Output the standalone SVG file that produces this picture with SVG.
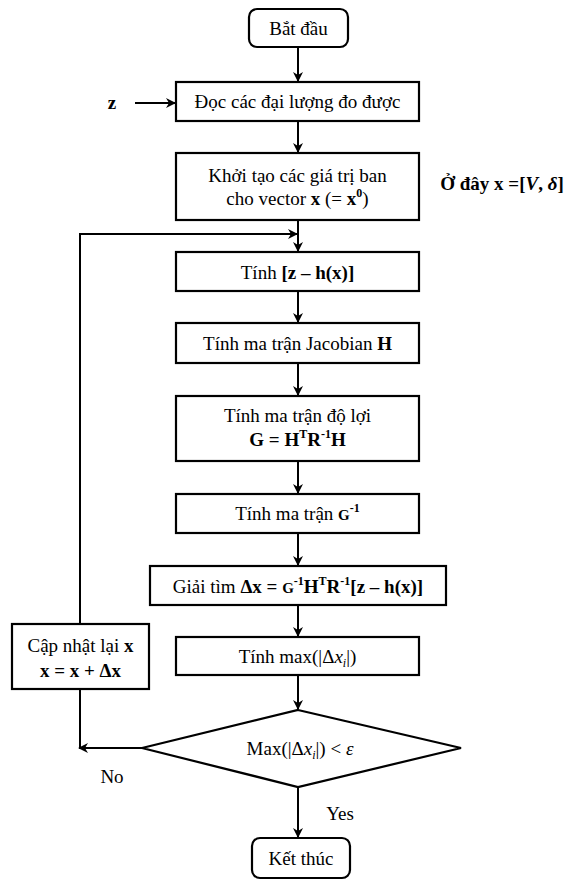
<svg xmlns="http://www.w3.org/2000/svg" width="581" height="880" viewBox="0 0 581 880">
<defs>
<marker id="ah" markerWidth="10" markerHeight="10" refX="9" refY="5" orient="auto" markerUnits="userSpaceOnUse">
<path d="M0,0 L10,5 L0,10 L3,5 Z" fill="#000"/>
</marker>
<style>
.box{fill:#fff;stroke:#000;stroke-width:2.2}
.t{font-family:'Liberation Serif',serif;font-size:19px;fill:#000;text-anchor:middle}
.b{font-weight:bold}
.i{font-style:italic}
.c{fill:none;stroke:#000;stroke-width:2}
.sup{font-size:12px}
</style>
</defs>
<rect width="581" height="880" fill="#fff"/>
<g id="connectors">
<line class="c" x1="298" y1="47" x2="298" y2="81" marker-end="url(#ah)"/>
<line class="c" x1="135" y1="103" x2="175" y2="103" marker-end="url(#ah)"/>
<line class="c" x1="298" y1="121" x2="298" y2="152" marker-end="url(#ah)"/>
<line class="c" x1="298" y1="220" x2="298" y2="251" marker-end="url(#ah)"/>
<polyline class="c" points="80,624 80,234 297,234" marker-end="url(#ah)"/>
<line class="c" x1="298" y1="291" x2="298" y2="322" marker-end="url(#ah)"/>
<line class="c" x1="298" y1="363" x2="298" y2="395" marker-end="url(#ah)"/>
<line class="c" x1="298" y1="461" x2="298" y2="493" marker-end="url(#ah)"/>
<line class="c" x1="298" y1="533" x2="298" y2="565" marker-end="url(#ah)"/>
<line class="c" x1="298" y1="605" x2="298" y2="636" marker-end="url(#ah)"/>
<line class="c" x1="298" y1="675" x2="298" y2="709" marker-end="url(#ah)"/>
<line class="c" x1="80" y1="689" x2="80" y2="748"/>
<line class="c" x1="142" y1="748" x2="79" y2="748" marker-end="url(#ah)"/>
<line class="c" x1="298" y1="787" x2="298" y2="837" marker-end="url(#ah)"/>
<text class="t" x="112" y="783">No</text>
<text class="t" x="340" y="820">Yes</text>
<text class="t b" x="112" y="109">z</text>
</g>
<g id="start">
<rect class="box" x="249" y="9" width="99" height="38" rx="8"/>
<text class="t" x="298.5" y="35">Bắt đầu</text>
</g>
<g id="read">
<rect class="box" x="176" y="82" width="243" height="39"/>
<text class="t" x="297.5" y="108">Đọc các đại lượng đo được</text>
</g>
<g id="init">
<rect class="box" x="176" y="153" width="243" height="67"/>
<text class="t" x="297.5" y="182">Khởi tạo các giá trị ban</text>
<text class="t" x="297.5" y="205">cho vector <tspan class="b">x</tspan> (= <tspan class="b">x</tspan><tspan class="b sup" dy="-8">0</tspan><tspan dy="8">)</tspan></text>
</g>
<g id="note">
<text class="t b" x="502" y="190">Ở đây x =[<tspan class="i">V</tspan>, <tspan class="i">δ</tspan>]</text>
</g>
<g id="residual">
<rect class="box" x="176" y="252" width="243" height="39"/>
<text class="t" x="297.5" y="279">Tính <tspan class="b">[z – h(x)]</tspan></text>
</g>
<g id="jacobian">
<rect class="box" x="176" y="323" width="243" height="40"/>
<text class="t" x="297.5" y="350">Tính ma trận Jacobian <tspan class="b">H</tspan></text>
</g>
<g id="gain">
<rect class="box" x="176" y="396" width="243" height="65"/>
<text class="t" x="297.5" y="422">Tính ma trận độ lợi</text>
<text class="t b" x="297.5" y="446">G = H<tspan class="sup" dy="-8">T</tspan><tspan dy="8">R</tspan><tspan class="sup" dy="-8">-1</tspan><tspan dy="8">H</tspan></text>
</g>
<g id="inverse">
<rect class="box" x="176" y="494" width="243" height="39"/>
<text class="t" x="297.5" y="520">Tính ma trận <tspan class="b" font-size="15">G</tspan><tspan class="b sup" dy="-8">-1</tspan></text>
</g>
<g id="solve">
<rect class="box" x="150" y="566" width="296" height="39"/>
<text class="t" x="298" y="593">Giải tìm <tspan class="b">Δx = </tspan><tspan class="b" font-size="15">G</tspan><tspan class="b sup" dy="-8">-1</tspan><tspan class="b" dy="8">H</tspan><tspan class="b sup" dy="-8">T</tspan><tspan class="b" dy="8">R</tspan><tspan class="b sup" dy="-8">-1</tspan><tspan class="b" dy="8">[z – h(x)]</tspan></text>
</g>
<g id="maxdx">
<rect class="box" x="176" y="637" width="243" height="38"/>
<text class="t" x="297.5" y="663">Tính max(|Δ<tspan class="i">x</tspan><tspan class="i sup" dy="4">i</tspan><tspan dy="-4">|)</tspan></text>
</g>
<g id="update">
<rect class="box" x="12" y="624" width="137" height="65"/>
<text class="t" x="80.5" y="652">Cập nhật lại <tspan class="b">x</tspan></text>
<text class="t b" x="80.5" y="677">x = x + Δx</text>
</g>
<g id="decision">
<polygon class="box" points="298,710 461,748 298,787 142,748"/>
<text class="t" x="300" y="755">Max(|Δ<tspan class="i">x</tspan><tspan class="i sup" dy="4">i</tspan><tspan dy="-4">|) &lt; </tspan><tspan class="i">ε</tspan></text>
</g>
<g id="end">
<rect class="box" x="252" y="838" width="98" height="40" rx="8"/>
<text class="t" x="301" y="865">Kết thúc</text>
</g>
</svg>
